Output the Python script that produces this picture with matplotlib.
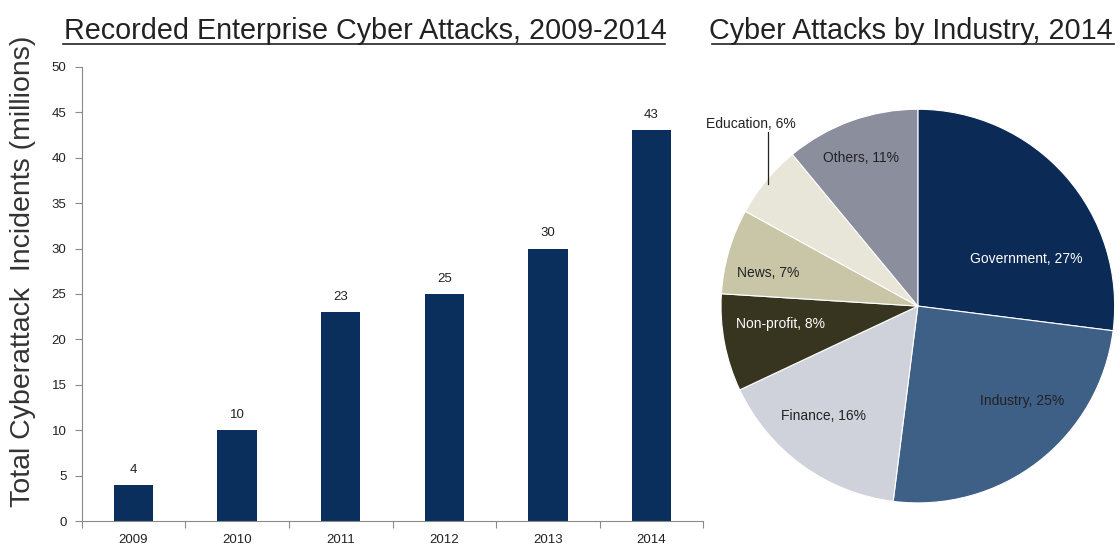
import numpy as np
import matplotlib
matplotlib.use("Agg")
import matplotlib.pyplot as plt

plt.rcParams["font.family"] = ["Liberation Sans", "DejaVu Sans"]

years = ["2009", "2010", "2011", "2012", "2013", "2014"]
incidents = [4, 10, 23, 25, 30, 43]

sectors = ["Government", "Industry", "Finance", "Non-profit", "News", "Education", "Others"]
shares = [27, 25, 16, 8, 7, 6, 11]
sector_colors = ["#0b2a55", "#3e5f86", "#cfd2da", "#37351f", "#c8c6a6", "#e8e6d8", "#8b8e9d"]
text_colors = ["white", "#222222", "#222222", "white", "#222222", "#222222", "#222222"]
label_pos = [(0.55, 0.24), (0.53, -0.48), (-0.48, -0.56), (-0.70, -0.09),
             (-0.76, 0.17), (-0.85, 0.925), (-0.29, 0.75)]

BAR = "#0b2f5c"
AXIS = "#8a8a8a"
TXT = "#222222"

fig = plt.figure(figsize=(11.2, 5.52), dpi=100)

# bar chart
ax = fig.add_axes([0.073, 0.056, 0.555, 0.823])
x = np.arange(len(years))
ax.bar(x, incidents, width=0.38, color=BAR)
for xi, v in zip(x, incidents):
    ax.text(xi, v + 1.0, str(v), ha="center", va="bottom", fontsize=9.5, color=TXT)
ax.set_xlim(-0.5, len(years) - 0.5)
ax.set_ylim(0, 50)
ax.set_yticks(np.arange(0, 51, 5))
ax.set_xticks(np.arange(-0.5, len(years), 1.0))
ax.set_xticklabels([])
ax.set_xticks(x, minor=True)
ax.set_xticklabels(years, minor=True)
ax.tick_params(axis="x", which="minor", length=0, labelsize=9.5, labelcolor=TXT, pad=9)
ax.tick_params(axis="x", which="major", length=5, color=AXIS, direction="out")
ax.tick_params(axis="y", length=5, color=AXIS, labelsize=9.5, labelcolor=TXT, pad=6)
for s in ("top", "right"):
    ax.spines[s].set_visible(False)
for s in ("left", "bottom"):
    ax.spines[s].set_color(AXIS)
ax.set_ylabel("Total Cyberattack  Incidents (millions)", fontsize=20.5, color="#333333")
ax.yaxis.set_label_coords(-0.073, 0.55)
fig.text(0.3265, 0.943, "Recorded Enterprise Cyber Attacks, 2009-2014", ha="center", va="center",
         fontsize=20.7, color=TXT)
fig.add_artist(plt.Line2D([0.056, 0.594], [0.921, 0.921], color=TXT, lw=1.2))

# pie chart
pax = fig.add_axes([0.642, 0.085, 0.355, 0.721])
pax.pie(shares, colors=sector_colors, startangle=90, counterclock=False,
        wedgeprops=dict(linewidth=0.8, edgecolor="white"))
pax.set_aspect("equal")
for name, sh, (tx, ty), tc in zip(sectors, shares, label_pos, text_colors):
    pax.text(tx, ty, f"{name}, {sh}%", ha="center", va="center", fontsize=10, color=tc)
pax.plot([-0.759, -0.759], [0.885, 0.62], color=TXT, lw=0.9)
pax.set_xlim(-1.01, 1.01)
pax.set_ylim(-1.01, 1.01)
fig.text(0.813, 0.943, "Cyber Attacks by Industry, 2014", ha="center", va="center",
         fontsize=20.7, color=TXT)
fig.add_artist(plt.Line2D([0.636, 0.995], [0.921, 0.921], color=TXT, lw=1.2))

fig.savefig("out.png", dpi=100)
